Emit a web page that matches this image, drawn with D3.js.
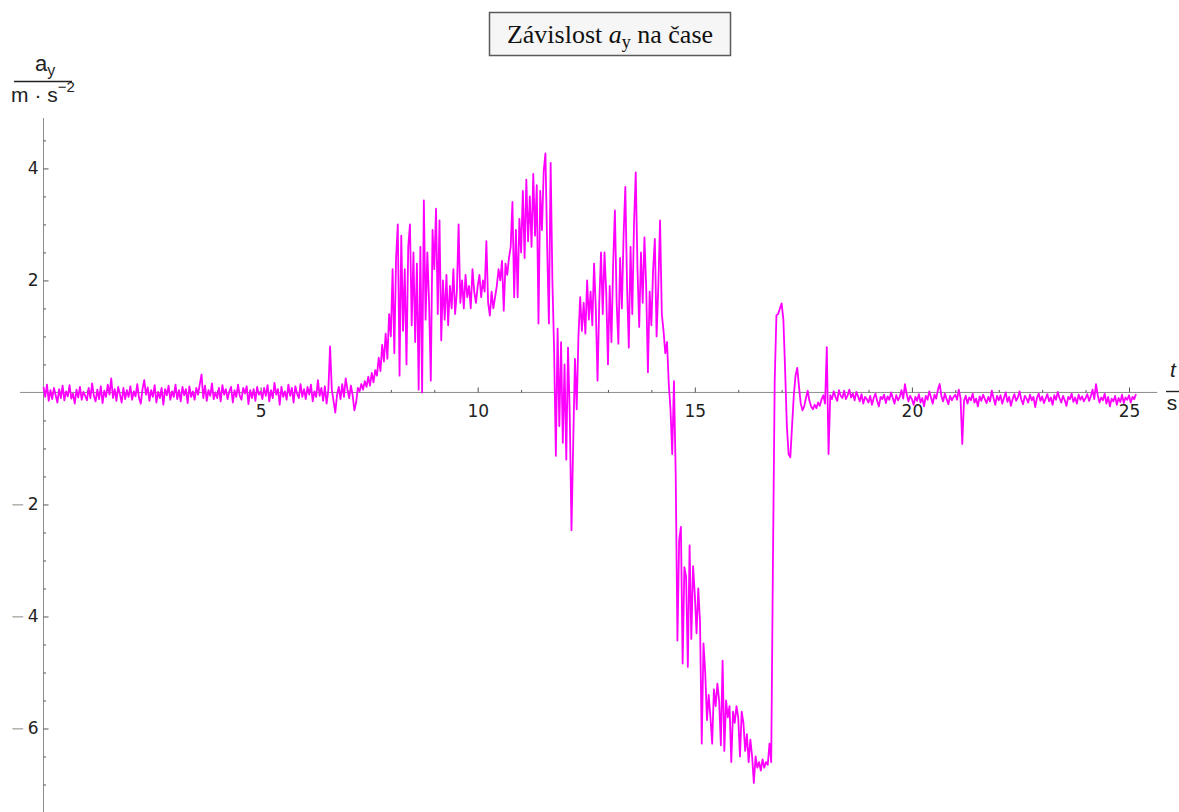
<!DOCTYPE html>
<html><head><meta charset="utf-8">
<script src="https://cdn.jsdelivr.net/npm/d3@7"></script>
<style>body{margin:0;background:#fff}</style></head>
<body>
<svg id="c" width="1179" height="812"></svg>
<script>
// sampling step of the recorded signal (s)
const sampleStep = 0.04;
// a_y values (m·s^-2), one row per second
const ay = [
 0.10,-0.08,0.14,-0.15,0.04,-0.12,0.08,-0.05,-0.18,0.06,-0.10,0.12,-0.14,0.02,-0.07,0.13,-0.11,-0.02,-0.20,0.05,-0.09,0.10,-0.13,0.01,-0.06,
 -0.14,0.08,-0.10,0.16,-0.06,-0.16,0.05,-0.12,0.11,-0.19,0.03,-0.08,0.14,-0.04,0.25,-0.10,0.06,-0.15,0.10,-0.03,-0.18,0.08,-0.12,0.04,-0.08,
 0.11,-0.13,0.02,-0.07,0.15,-0.10,-0.20,0.06,0.22,-0.04,0.09,-0.15,0.04,-0.08,0.13,-0.18,0.01,-0.10,0.08,-0.22,0.06,-0.05,0.12,-0.13,0.02,
 -0.08,0.14,-0.12,0.04,-0.16,0.10,-0.05,0.06,-0.19,0.11,-0.08,0.02,-0.13,0.08,-0.04,0.15,0.32,-0.10,0.12,-0.15,0.04,-0.06,0.16,-0.12,0.00,
 -0.10,0.08,-0.16,0.13,-0.04,0.06,-0.12,0.02,0.10,-0.18,0.04,-0.08,0.14,-0.06,-0.13,0.08,-0.02,0.11,-0.21,0.04,-0.10,0.06,-0.15,0.10,-0.04,
 0.02,-0.12,0.08,-0.06,0.13,-0.16,0.04,-0.10,0.17,-0.04,0.06,-0.22,0.10,-0.08,0.02,-0.13,0.14,-0.06,0.08,-0.18,0.11,-0.02,-0.10,0.15,-0.08,
 0.06,-0.12,0.10,-0.04,0.14,-0.16,0.02,-0.08,0.22,-0.06,0.08,-0.15,0.11,-0.20,0.04,0.82,0.05,-0.15,-0.36,-0.05,0.10,-0.12,0.15,-0.08,0.25,
 0.05,-0.10,0.12,-0.05,-0.32,-0.18,0.08,0.02,0.15,0.05,0.20,0.10,0.28,0.12,0.35,0.18,0.40,0.30,0.62,0.38,0.85,0.55,1.05,0.60,1.40,
 1.0,2.2,0.7,2.4,3.0,0.3,2.8,1.1,2.2,0.5,2.6,3.0,1.2,2.5,0.9,2.3,0.05,2.6,0.0,3.43,1.3,2.5,1.6,0.21,2.9,
 2.2,3.28,1.4,3.07,0.93,2.0,1.3,2.1,1.2,1.9,1.5,2.2,1.4,1.8,3.0,1.6,2.0,1.5,2.1,1.7,1.9,1.5,2.2,1.8,1.6,
 1.9,2.1,1.7,2.0,1.8,2.7,1.6,1.37,1.8,1.5,1.7,1.9,2.2,2.0,2.35,1.46,2.3,2.1,2.4,2.6,3.4,1.7,2.9,1.7,3.1,
 2.5,3.6,2.4,3.8,2.7,3.5,2.6,3.9,2.8,3.7,1.23,3.6,2.9,3.95,4.27,2.6,1.23,4.1,2.0,0.75,-1.13,1.14,-0.6,0.9,-0.9,
 0.5,-1.2,0.8,-0.4,-2.46,-0.9,0.6,-0.3,1.0,1.7,1.1,1.6,1.05,2.0,1.3,1.8,1.2,2.3,1.5,0.21,1.6,2.5,1.4,2.5,1.8,
 0.5,1.9,0.9,2.3,3.25,1.6,0.87,2.4,1.5,2.8,3.67,1.9,0.8,2.6,1.4,3.0,3.93,2.2,1.17,2.5,1.6,2.77,1.9,0.36,1.8,
 1.2,2.2,2.74,1.0,1.9,3.07,1.4,1.1,0.7,0.9,0.16,-0.3,-1.1,0.2,-1.45,-4.43,-2.64,-2.4,-4.84,-3.12,-3.3,-4.9,-2.73,-4.4,-3.1,
 -3.6,-4.3,-3.5,-4.1,-6.27,-4.48,-5.0,-5.85,-5.4,-5.8,-6.27,-5.3,-5.6,-5.2,-5.5,-6.3,-4.79,-6.4,-5.5,-5.8,-5.6,-6.6,-5.7,-5.9,-5.6,
 -5.8,-6.5,-5.7,-5.9,-6.4,-6.1,-6.6,-6.2,-6.5,-6.97,-6.5,-6.7,-6.6,-6.75,-6.55,-6.7,-6.6,-6.65,-6.27,-6.6,-3.0,0.2,1.38,1.4,1.5,
 1.59,1.3,0.4,-0.6,-1.1,-1.16,-0.6,-0.05,0.3,0.44,0.1,-0.2,-0.32,-0.25,-0.1,0.03,-0.15,-0.25,-0.3,-0.22,-0.28,-0.18,-0.24,-0.12,-0.05,
 -0.2,0.81,-1.1,-0.05,-0.12,0.02,-0.08,-0.15,0.04,-0.06,-0.1,0.03,-0.12,-0.05,0.05,-0.09,-0.02,-0.14,0.01,-0.07,-0.16,-0.03,-0.2,-0.08,-0.12,
 -0.18,-0.06,-0.22,-0.1,-0.02,-0.15,-0.25,-0.08,-0.12,-0.04,-0.19,-0.07,-0.13,0.0,-0.1,-0.2,-0.05,-0.14,-0.08,0.04,-0.11,0.15,-0.03,-0.16,-0.06,
 -0.12,-0.22,-0.08,-0.15,-0.03,-0.18,-0.1,-0.25,-0.06,-0.13,0.02,-0.09,-0.2,-0.04,-0.11,0.05,0.15,-0.07,-0.16,-0.02,-0.12,-0.21,-0.06,-0.14,-0.08,
 -0.04,-0.13,0.05,-0.1,-0.92,-0.15,-0.06,-0.2,-0.09,-0.14,-0.02,-0.18,-0.11,-0.25,-0.07,-0.15,-0.04,-0.12,-0.19,-0.08,-0.16,0.03,-0.1,-0.22,-0.06,
 -0.14,-0.05,-0.2,-0.1,0.0,-0.17,-0.08,-0.24,-0.12,-0.03,-0.15,-0.09,0.02,-0.13,-0.21,-0.06,-0.11,-0.18,-0.04,-0.14,-0.08,-0.26,-0.1,-0.02,-0.15,
 -0.07,-0.19,-0.11,-0.03,-0.16,-0.09,-0.22,-0.05,-0.13,0.01,-0.1,-0.18,-0.06,-0.14,-0.24,-0.08,-0.12,-0.02,-0.17,-0.09,-0.2,-0.04,-0.13,-0.07,-0.16,
 -0.1,-0.03,-0.15,-0.07,0.05,-0.12,0.15,-0.05,-0.18,-0.09,-0.14,-0.02,-0.2,-0.08,-0.25,-0.11,-0.16,-0.06,-0.22,-0.1,-0.17,-0.04,-0.19,-0.09,-0.13,
 -0.05,-0.18,-0.08,-0.12,-0.03
];
const xMajorTicks = [5, 10, 15, 20, 25];
const xMinorTicks = [1,2,3,4,6,7,8,9,11,12,13,14,16,17,18,19,21,22,23,24];
const yMajorTicks = [-6, -4, -2, 2, 4];
const yMinorTicks = [-7,-6.5,-5.5,-5,-4.5,-3.5,-3,-2.5,-1.5,-1,-0.5,0.5,1,1.5,2.5,3,3.5,4.5];
const titleParts = ["Závislost ", "a", "y", " na čase"];
const yLabelParts = ["a", "y", "m · s", "−2"];
const xLabelParts = ["t", "s"];

const svg = d3.select("#c");
const x = d3.scaleLinear().domain([0, 25]).range([43.5, 1129]);
const y = d3.scaleLinear().domain([-7.5, 4.9]).range([812.5, 118]);
const axisColor = "#8c8c8c";
const sans = "Liberation Sans, Arial, sans-serif";
const tickFont = "DejaVu Sans, Verdana, sans-serif";

// axis lines
svg.append("line").attr("x1", x(-0.54)).attr("x2", x(25.65))
  .attr("y1", y(0)).attr("y2", y(0)).attr("stroke", axisColor).attr("stroke-width", 1);
svg.append("line").attr("x1", x(0)).attr("x2", x(0))
  .attr("y1", y(4.9)).attr("y2", y(-7.5)).attr("stroke", axisColor).attr("stroke-width", 1);

// x ticks
const gxMin = svg.append("g").attr("transform", `translate(0,${y(0)})`)
  .call(d3.axisBottom(x).tickValues(xMinorTicks).tickSize(-2.5).tickFormat(""));
gxMin.select(".domain").remove();
gxMin.selectAll("line").attr("stroke", "#555");
const gx = svg.append("g").attr("transform", `translate(0,${y(0)})`)
  .call(d3.axisBottom(x).tickValues(xMajorTicks).tickSize(-5).tickPadding(12).tickFormat(d3.format("d")));
gx.select(".domain").remove();
gx.selectAll("line").attr("stroke", "#555");
gx.selectAll("text").attr("font-family", tickFont).attr("font-size", 17).attr("fill", "#222");

// y ticks
const gyMin = svg.append("g").attr("transform", `translate(${x(0)},0)`)
  .call(d3.axisLeft(y).tickValues(yMinorTicks).tickSize(-2.5).tickFormat(""));
gyMin.select(".domain").remove();
gyMin.selectAll("line").attr("stroke", "#555");
const gy = svg.append("g").attr("transform", `translate(${x(0)},0)`)
  .call(d3.axisLeft(y).tickValues(yMajorTicks).tickSize(-5).tickPadding(5).tickFormat(""));
gy.select(".domain").remove();
gy.selectAll("line").attr("stroke", "#555");
gy.selectAll(".tick").each(function(d) {
  const t = d3.select(this).select("text")
    .attr("font-family", tickFont).attr("font-size", 17).attr("fill", "#222");
  if (d < 0) {
    t.append("tspan").attr("fill", "#b4b4b4").text("−");
    t.append("tspan").attr("dx", 3).text(Math.abs(d));
  } else {
    t.append("tspan").text(d);
  }
});

// data line
svg.append("path").datum(ay)
  .attr("fill", "none").attr("stroke", "#ff00ff").attr("stroke-width", 1.8)
  .attr("stroke-linejoin", "round")
  .attr("d", d3.line().x((d, i) => x(i * sampleStep)).y(d => y(d)));

// title
const tg = svg.append("g");
tg.append("rect").attr("x", 489.5).attr("y", 12.5).attr("width", 241).attr("height", 43)
  .attr("fill", "#f6f6f6").attr("stroke", "#5a5a5a").attr("stroke-width", 1.5);
const tt = tg.append("text").attr("x", 610).attr("y", 42.5).attr("text-anchor", "middle")
  .attr("font-family", "Liberation Serif, Times New Roman, serif").attr("font-size", 26).attr("fill", "#111");
tt.append("tspan").text(titleParts[0]);
tt.append("tspan").attr("font-style", "italic").text(titleParts[1]);
tt.append("tspan").attr("font-size", 18).attr("dy", 5).text(titleParts[2]);
tt.append("tspan").attr("dy", -5).text(titleParts[3]);

// y axis label (fraction)
const yl = svg.append("text").attr("x", 45).attr("y", 71).attr("text-anchor", "middle")
  .attr("font-family", sans).attr("font-size", 22).attr("fill", "#222");
yl.append("tspan").text(yLabelParts[0]);
yl.append("tspan").attr("font-size", 16).attr("dy", 5).text(yLabelParts[1]);
svg.append("line").attr("x1", 14).attr("x2", 72).attr("y1", 81.5).attr("y2", 81.5)
  .attr("stroke", "#222").attr("stroke-width", 1.4);
const yl2 = svg.append("text").attr("x", 43).attr("y", 102).attr("text-anchor", "middle")
  .attr("font-family", sans).attr("font-size", 21).attr("fill", "#222");
yl2.append("tspan").text(yLabelParts[2]);
yl2.append("tspan").attr("font-size", 15).attr("dy", -10).text(yLabelParts[3]);

// x axis label (fraction)
svg.append("text").attr("x", 1173).attr("y", 377).attr("text-anchor", "middle")
  .attr("font-family", sans).attr("font-style", "italic").attr("font-size", 21).attr("fill", "#222")
  .text(xLabelParts[0]);
svg.append("line").attr("x1", 1166).attr("x2", 1179).attr("y1", 391.5).attr("y2", 391.5)
  .attr("stroke", "#222").attr("stroke-width", 1.4);
svg.append("text").attr("x", 1172).attr("y", 410).attr("text-anchor", "middle")
  .attr("font-family", sans).attr("font-size", 21).attr("fill", "#222")
  .text(xLabelParts[1]);
</script>
</body></html>
